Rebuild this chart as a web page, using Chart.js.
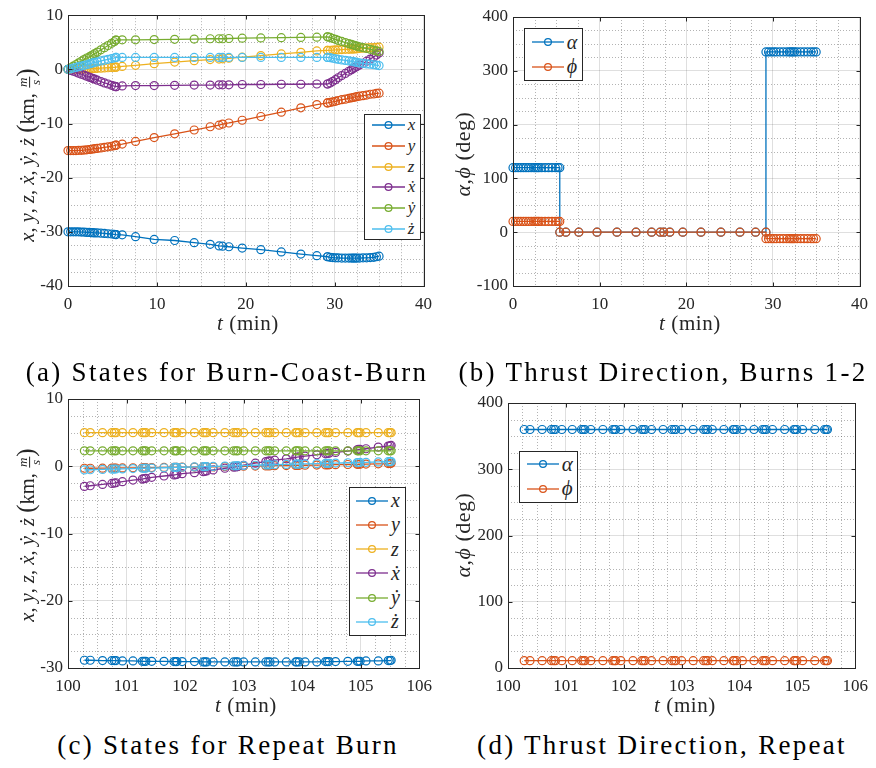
<!DOCTYPE html>
<html>
<head>
<meta charset="utf-8">
<script src="https://cdn.jsdelivr.net/npm/chart.js@4.4.1/dist/chart.umd.min.js"></script>
<style>
  body { margin: 0; background: #fff; }
  #page { position: relative; width: 876px; height: 768px; overflow: hidden; font-family: 'Liberation Serif', 'DejaVu Serif', serif; color: #262626; }
  canvas { position: absolute; }
  .cap { position: absolute; font-size: 27px; letter-spacing: 2.3px; color: #000; white-space: nowrap; transform: translate(-50%, -50%); }
  .xt { position: absolute; font-size: 21px; letter-spacing: 0.6px; white-space: nowrap; transform: translate(-50%, -50%); }
  .yt { position: absolute; font-size: 20.5px; white-space: nowrap; transform: translate(-50%, -50%) rotate(-90deg); }
  .yt.ang { font-size: 22px; letter-spacing: 0.5px; }
  .frac { display: inline-flex; flex-direction: column; vertical-align: middle; font-size: 13px; line-height: 12px; text-align: center; font-style: italic; }
  .frac span:first-child { border-bottom: 1px solid #262626; padding: 0 1px; }
  .big { font-size: 25px; }
  .leg { position: absolute; border: 1px solid #262626; background: #fff; box-sizing: border-box; }
  .leg .row { position: absolute; left: 0; height: 20px; display: flex; align-items: center; }
  .leg .lab { font-style: italic; margin-left: 3px; }
</style>
</head>
<body>
<div id="page">
  <canvas id="cA" width="440" height="340" style="left:0;top:0"></canvas>
  <canvas id="cB" width="436" height="340" style="left:440px;top:0"></canvas>
  <canvas id="cC" width="440" height="320" style="left:0;top:380px"></canvas>
  <canvas id="cD" width="436" height="320" style="left:440px;top:380px"></canvas>

  <div class="yt" style="left:27px;top:155px"><i>x</i>, <i>y</i>, <i>z</i>, <i>ẋ</i>, <i>ẏ</i>, <i>ż</i> <span class="big">(</span>km, <span class="frac"><span>m</span><span>s</span></span><span class="big">)</span></div>
  <div class="yt ang" style="left:463px;top:154px"><i>α</i>,<i>ϕ</i> (deg)</div>
  <div class="yt" style="left:27px;top:535px"><i>x</i>, <i>y</i>, <i>z</i>, <i>ẋ</i>, <i>ẏ</i>, <i>ż</i> <span class="big">(</span>km, <span class="frac"><span>m</span><span>s</span></span><span class="big">)</span></div>
  <div class="yt ang" style="left:463px;top:535px"><i>α</i>,<i>ϕ</i> (deg)</div>

  <div class="xt" style="left:248px;top:323px"><i>t</i> (min)</div>
  <div class="xt" style="left:690px;top:323px"><i>t</i> (min)</div>
  <div class="xt" style="left:246px;top:705px"><i>t</i> (min)</div>
  <div class="xt" style="left:685px;top:705px"><i>t</i> (min)</div>

  <div class="cap" style="left:227px;top:372px">(a) States for Burn-Coast-Burn</div>
  <div class="cap" style="left:663px;top:372px">(b) Thrust Direction, Burns 1-2</div>
  <div class="cap" style="left:228px;top:745px">(c) States for Repeat Burn</div>
  <div class="cap" style="left:662px;top:745px">(d) Thrust Direction, Repeat</div>
</div>

<script>
// ---- data: burn-coast-burn (minutes) ----
const tA = [
  0, 0.3, 0.6, 0.9, 1.2, 1.5, 1.8, 2.1, 2.4, 2.6, 2.8, 3.0, 3.3, 3.7, 4.1, 4.5, 4.9, 5.2, 5.4,
  5.4, 6.1, 7.6, 9.7, 12.0, 14.2, 16.0, 17.0, 17.4, 18.1, 19.6, 21.7, 24.0, 26.2, 28.0, 29.2,
  29.2, 29.5, 29.8, 30.1, 30.4, 30.8, 31.2, 31.6, 31.9, 32.1, 32.3, 32.5, 32.8, 33.2, 33.6, 34.0, 34.4, 34.7, 35.0
];
const xA = [
  -30.0, -30.0, -30.0, -30.0, -30.0, -30.05, -30.05, -30.1, -30.1, -30.15, -30.15, -30.2, -30.2, -30.25, -30.3, -30.35, -30.4, -30.45, -30.5,
  -30.5, -30.55, -30.9, -31.4, -31.6, -32.0, -32.3, -32.6, -32.65, -32.75, -33.0, -33.3, -33.7, -34.1, -34.4, -34.6,
  -34.6, -34.7, -34.75, -34.8, -34.8, -34.85, -34.85, -34.85, -34.85, -34.85, -34.85, -34.85, -34.85, -34.8, -34.8, -34.75, -34.7, -34.6, -34.5
];
const yA = [
  -15.0, -15.0, -15.0, -15.0, -14.95, -14.95, -14.9, -14.85, -14.8, -14.75, -14.7, -14.65, -14.6, -14.5, -14.4, -14.3, -14.2, -14.1, -14.0,
  -14.0, -13.8, -13.3, -12.6, -11.9, -11.2, -10.6, -10.3, -10.1, -9.9, -9.4, -8.7, -7.9, -7.1, -6.5, -6.2,
  -6.2, -6.1, -6.0, -5.9, -5.75, -5.6, -5.5, -5.35, -5.25, -5.2, -5.1, -5.05, -4.95, -4.85, -4.75, -4.6, -4.55, -4.45, -4.4
];
const zA = [
  0, 0.01, 0.02, 0.03, 0.05, 0.06, 0.08, 0.1, 0.12, 0.13, 0.15, 0.17, 0.19, 0.22, 0.26, 0.3, 0.34, 0.37, 0.4,
  0.4, 0.55, 0.75, 1.05, 1.35, 1.6, 1.8, 1.9, 1.95, 2.05, 2.25, 2.55, 2.85, 3.15, 3.4, 3.5,
  3.5, 3.5, 3.55, 3.6, 3.6, 3.65, 3.7, 3.7, 3.75, 3.75, 3.8, 3.8, 3.85, 3.9, 3.95, 4.0, 4.0, 4.05, 4.1
];
const xdA = [
  0, -0.2, -0.35, -0.5, -0.7, -0.9, -1.05, -1.25, -1.45, -1.55, -1.7, -1.8, -2.0, -2.25, -2.5, -2.7, -2.95, -3.1, -3.2,
  -3.2, -3.05, -3.0, -3.0, -2.95, -2.9, -2.9, -2.85, -2.85, -2.85, -2.8, -2.8, -2.75, -2.75, -2.7, -2.7,
  -2.7, -2.5, -2.2, -1.9, -1.55, -1.15, -0.75, -0.35, -0.05, 0.15, 0.35, 0.55, 0.8, 1.1, 1.5, 1.9, 2.3, 2.65, 3.0
];
const ydA = [
  0, 0.3, 0.6, 0.9, 1.2, 1.5, 1.8, 2.1, 2.3, 2.5, 2.7, 2.9, 3.2, 3.6, 4.0, 4.4, 4.8, 5.1, 5.4,
  5.4, 5.45, 5.45, 5.5, 5.55, 5.6, 5.65, 5.65, 5.65, 5.7, 5.75, 5.8, 5.85, 5.9, 5.95, 6.0,
  6.0, 5.9, 5.7, 5.55, 5.35, 5.15, 4.95, 4.75, 4.6, 4.5, 4.4, 4.3, 4.15, 4.0, 3.85, 3.7, 3.55, 3.4, 3.3
];
const zdA = [
  0, 0.1, 0.25, 0.35, 0.5, 0.6, 0.75, 0.85, 1.0, 1.1, 1.2, 1.3, 1.4, 1.55, 1.7, 1.85, 2.0, 2.1, 2.2,
  2.2, 2.2, 2.2, 2.2, 2.2, 2.2, 2.2, 2.2, 2.2, 2.2, 2.2, 2.2, 2.2, 2.2, 2.2, 2.2,
  2.2, 2.15, 2.05, 1.95, 1.85, 1.75, 1.65, 1.55, 1.5, 1.45, 1.35, 1.3, 1.2, 1.1, 1.0, 0.95, 0.85, 0.8, 0.7
];
const alphaB = [
  120, 120, 120, 120, 120, 120, 120, 120, 120, 120, 120, 120, 120, 120, 120, 120, 120, 120, 120,
  0, 0, 0, 0, 0, 0, 0, 0, 0, 0, 0, 0, 0, 0, 0, 0,
  335, 335, 335, 335, 335, 335, 335, 335, 335, 335, 335, 335, 335, 335, 335, 335, 335, 335, 335
];
const phiB = [
  20, 20, 20, 20, 20, 20, 20, 20, 20, 20, 20, 20, 20, 20, 20, 20, 20, 20, 20,
  0, 0, 0, 0, 0, 0, 0, 0, 0, 0, 0, 0, 0, 0, 0, 0,
  -12, -12, -12, -12, -12, -12, -12, -12, -12, -12, -12, -12, -12, -12, -12, -12, -12, -12, -12
];

// ---- data: repeat burn ----
const tC = [
  100.28, 100.38, 100.59, 100.75, 100.79, 100.82, 100.93, 101.11, 101.27, 101.30,
  101.33, 101.43, 101.64, 101.81, 101.84, 101.86, 101.95, 102.16, 102.31, 102.34,
  102.37, 102.48, 102.68, 102.83, 102.87, 102.90, 103.00, 103.20, 103.38, 103.42,
  103.45, 103.53, 103.73, 103.89, 103.91, 103.95, 104.05, 104.25, 104.40, 104.43,
  104.46, 104.57, 104.78, 104.94, 104.96, 104.99, 105.09, 105.30, 105.47, 105.50,
  105.52
];
const xC = [
  -28.85, -28.85, -28.9, -28.9, -28.9, -28.9, -28.95, -28.95, -29.0, -29.0,
  -29.0, -29.0, -29.0, -29.05, -29.05, -29.05, -29.05, -29.05, -29.1, -29.1,
  -29.1, -29.1, -29.1, -29.1, -29.1, -29.1, -29.1, -29.1, -29.1, -29.1,
  -29.1, -29.1, -29.1, -29.1, -29.1, -29.1, -29.1, -29.1, -29.05, -29.05,
  -29.05, -29.05, -29.0, -29.0, -29.0, -29.0, -28.95, -28.95, -28.9, -28.9,
  -28.85
];
const yC = [
  -0.3, -0.3, -0.28, -0.27, -0.26, -0.26, -0.25, -0.23, -0.22, -0.22,
  -0.21, -0.2, -0.18, -0.16, -0.16, -0.15, -0.14, -0.12, -0.1, -0.09,
  -0.09, -0.08, -0.05, -0.03, -0.02, -0.02, 0.0, 0.02, 0.05, 0.06,
  0.06, 0.08, 0.1, 0.13, 0.13, 0.14, 0.15, 0.18, 0.2, 0.21,
  0.21, 0.23, 0.26, 0.29, 0.3, 0.3, 0.32, 0.36, 0.4, 0.42,
  0.43
];
const zC = [
  5.0, 5.0, 5.0, 5.0, 5.0, 5.0, 5.0, 5.0, 5.0, 5.0,
  5.0, 5.0, 5.0, 5.0, 5.0, 5.0, 5.0, 5.0, 5.0, 5.0,
  5.0, 5.0, 5.0, 5.0, 5.0, 5.0, 5.0, 5.0, 5.0, 5.0,
  5.0, 5.0, 5.0, 5.0, 5.0, 5.0, 5.0, 5.0, 5.0, 5.0,
  5.0, 5.0, 5.0, 5.0, 5.0, 5.0, 5.0, 5.0, 5.0, 5.0,
  5.0
];
const xdC = [
  -3.0, -2.9, -2.7, -2.55, -2.5, -2.45, -2.3, -2.05, -1.9, -1.85,
  -1.8, -1.65, -1.45, -1.3, -1.25, -1.2, -1.1, -0.95, -0.8, -0.75,
  -0.7, -0.55, -0.3, -0.15, -0.1, -0.05, 0.15, 0.45, 0.7, 0.75,
  0.8, 0.9, 1.1, 1.3, 1.35, 1.4, 1.5, 1.7, 1.85, 1.9,
  1.95, 2.05, 2.25, 2.45, 2.5, 2.5, 2.6, 2.85, 3.0, 3.05,
  3.1
];
const ydC = [
  2.3, 2.3, 2.3, 2.3, 2.3, 2.3, 2.3, 2.3, 2.3, 2.3,
  2.3, 2.3, 2.3, 2.3, 2.3, 2.3, 2.3, 2.3, 2.3, 2.3,
  2.3, 2.3, 2.3, 2.3, 2.3, 2.3, 2.3, 2.3, 2.3, 2.3,
  2.3, 2.3, 2.3, 2.3, 2.3, 2.3, 2.3, 2.3, 2.3, 2.3,
  2.3, 2.3, 2.3, 2.3, 2.3, 2.3, 2.3, 2.3, 2.3, 2.3,
  2.3
];
const zdC = [
  -0.55, -0.52, -0.47, -0.43, -0.42, -0.41, -0.39, -0.34, -0.3, -0.3,
  -0.29, -0.27, -0.22, -0.18, -0.17, -0.17, -0.15, -0.1, -0.06, -0.06,
  -0.05, -0.02, 0.03, 0.06, 0.07, 0.08, 0.1, 0.15, 0.19, 0.2,
  0.21, 0.22, 0.27, 0.31, 0.31, 0.32, 0.35, 0.39, 0.43, 0.43,
  0.44, 0.47, 0.52, 0.55, 0.56, 0.57, 0.59, 0.64, 0.68, 0.69,
  0.7
];
const alphaD = [
  360, 360, 360, 360, 360, 360, 360, 360, 360, 360,
  360, 360, 360, 360, 360, 360, 360, 360, 360, 360,
  360, 360, 360, 360, 360, 360, 360, 360, 360, 360,
  360, 360, 360, 360, 360, 360, 360, 360, 360, 360,
  360, 360, 360, 360, 360, 360, 360, 360, 360, 360,
  360
];
const phiD = [
  11, 11, 11, 11, 11, 11, 11, 11, 11, 11,
  11, 11, 11, 11, 11, 11, 11, 11, 11, 11,
  11, 11, 11, 11, 11, 11, 11, 11, 11, 11,
  11, 11, 11, 11, 11, 11, 11, 11, 11, 11,
  11, 11, 11, 11, 11, 11, 11, 11, 11, 11,
  11
];

const stateLabels = ['x', 'y', 'z', 'ẋ', 'ẏ', 'ż'];
const angleLabels = ['α', 'ϕ'];
const colors = ['#0072BD', '#D95319', '#EDB120', '#7E2F8E', '#77AC30', '#4DBEEE'];

Chart.defaults.font.family = "'Liberation Serif', 'DejaVu Serif', serif";
Chart.defaults.font.size = 17;
Chart.defaults.color = '#262626';

const AXIS = '#262626';

function isMajor(v, step) {
  const r = v / step;
  return Math.abs(r - Math.round(r)) < 1e-6;
}

// minor dotted grid + inward ticks + box, like matlab axes
const matlabAxes = {
  id: 'matlabAxes',
  beforeDatasetsDraw(chart, args, opts) {
    const { ctx, chartArea: a, scales: { x, y } } = chart;
    ctx.save();
    ctx.strokeStyle = 'rgba(38,38,38,0.35)';
    ctx.lineWidth = 1;
    ctx.setLineDash([1, 2]);
    for (let v = x.min + opts.minorX; v < x.max - 1e-9; v += opts.minorX) {
      if (isMajor(v, opts.majorX)) continue;
      const px = Math.round(x.getPixelForValue(v)) + 0.5;
      ctx.beginPath(); ctx.moveTo(px, a.top); ctx.lineTo(px, a.bottom); ctx.stroke();
    }
    for (let v = y.min + opts.minorY; v < y.max - 1e-9; v += opts.minorY) {
      if (isMajor(v, opts.majorY)) continue;
      const py = Math.round(y.getPixelForValue(v)) + 0.5;
      ctx.beginPath(); ctx.moveTo(a.left, py); ctx.lineTo(a.right, py); ctx.stroke();
    }
    ctx.restore();
  },
  afterDraw(chart) {
    const { ctx, chartArea: a, scales: { x, y } } = chart;
    const L = Math.round(a.left) + 0.5, R = Math.round(a.right) + 0.5;
    const T = Math.round(a.top) + 0.5, B = Math.round(a.bottom) + 0.5;
    ctx.save();
    ctx.strokeStyle = AXIS;
    ctx.lineWidth = 1;
    ctx.strokeRect(L, T, R - L, B - T);
    ctx.beginPath();
    x.ticks.forEach(t => {
      const px = Math.round(x.getPixelForValue(t.value)) + 0.5;
      ctx.moveTo(px, B); ctx.lineTo(px, B - 4);
      ctx.moveTo(px, T); ctx.lineTo(px, T + 4);
    });
    y.ticks.forEach(t => {
      const py = Math.round(y.getPixelForValue(t.value)) + 0.5;
      ctx.moveTo(L, py); ctx.lineTo(L + 4, py);
      ctx.moveTo(R, py); ctx.lineTo(R - 4, py);
    });
    ctx.stroke();
    ctx.restore();
  }
};

function series(label, color, ts, vs, i, n) {
  return {
    label,
    data: ts.map((t, k) => ({ x: t, y: vs[k] })),
    borderColor: color,
    backgroundColor: color,
    borderWidth: 1.3,
    pointRadius: 4,
    pointBorderWidth: 1.2,
    pointBackgroundColor: 'rgba(0,0,0,0)',
    pointBorderColor: color,
    tension: 0,
    clip: 8,
    order: n - i
  };
}

function panel(id, ax, datasets) {
  const cv = document.getElementById(id);
  const W = cv.width, H = cv.height;
  return new Chart(cv, {
    type: 'line',
    data: { datasets },
    options: {
      responsive: false,
      animation: false,
      devicePixelRatio: 1,
      layout: { padding: { left: 0, top: ax.area.top, right: W - ax.area.right, bottom: 0 } },
      plugins: { legend: { display: false }, tooltip: { enabled: false }, matlabAxes: ax.minor },
      scales: {
        x: {
          type: 'linear', min: ax.x[0], max: ax.x[1],
          ticks: { stepSize: ax.x[2], padding: 8, maxRotation: 0, autoSkip: false },
          grid: { color: 'rgba(38,38,38,0.15)', drawTicks: false },
          border: { display: false },
          afterFit: s => { s.height = H - ax.area.bottom; }
        },
        y: {
          type: 'linear', min: ax.y[0], max: ax.y[1],
          ticks: { stepSize: ax.y[2], padding: 5, autoSkip: false },
          grid: { color: 'rgba(38,38,38,0.15)', drawTicks: false },
          border: { display: false },
          afterFit: s => { s.width = ax.area.left; }
        }
      }
    },
    plugins: [matlabAxes]
  });
}

function legend(chart, box) {
  const page = document.getElementById('page');
  const el = document.createElement('div');
  el.className = 'leg';
  Object.assign(el.style, { left: box.left + 'px', top: box.top + 'px', width: box.w + 'px', height: box.h + 'px' });
  chart.data.datasets.forEach((ds, i) => {
    const row = document.createElement('div');
    row.className = 'row';
    row.style.top = (box.first + i * box.step - box.top - 11) + 'px';
    row.style.left = (box.lineX - box.left - 1) + 'px';
    const c = ds.borderColor;
    row.innerHTML =
      `<svg width="${box.lineW}" height="20"><line x1="0" y1="10" x2="${box.lineW}" y2="10" stroke="${c}" stroke-width="1.3"/>` +
      `<circle cx="${box.lineW / 2}" cy="10" r="3.4" fill="none" stroke="${c}" stroke-width="1.2"/></svg>` +
      `<span class="lab" style="font-size:${box.fs}px">${ds.label}</span>`;
    el.appendChild(row);
  });
  page.appendChild(el);
}

const statesA = [xA, yA, zA, xdA, ydA, zdA];
const chartA = panel('cA',
  { area: { left: 68, right: 429, top: 14, bottom: 286 }, x: [0, 40, 10], y: [-40, 10, 10],
    minor: { minorX: 2.5, majorX: 10, minorY: 2.5, majorY: 10 } },
  statesA.map((v, i) => series(stateLabels[i], colors[i], tA, v, i, 6)));

const chartB = panel('cB',
  { area: { left: 73, right: 427, top: 17, bottom: 286 }, x: [0, 40, 10], y: [-100, 400, 100],
    minor: { minorX: 2.5, majorX: 10, minorY: 25, majorY: 100 } },
  [alphaB, phiB].map((v, i) => series(angleLabels[i], colors[i], tA, v, i, 2)));

const statesC = [xC, yC, zC, xdC, ydC, zdC];
const chartC = panel('cC',
  { area: { left: 68, right: 425, top: 19, bottom: 288 }, x: [100, 106, 1], y: [-30, 10, 10],
    minor: { minorX: 0.25, majorX: 1, minorY: 2.5, majorY: 10 } },
  statesC.map((v, i) => series(stateLabels[i], colors[i], tC, v, i, 6)));

const chartD = panel('cD',
  { area: { left: 68, right: 423, top: 23, bottom: 288 }, x: [100, 106, 1], y: [0, 400, 100],
    minor: { minorX: 0.25, majorX: 1, minorY: 25, majorY: 100 } },
  [alphaD, phiD].map((v, i) => series(angleLabels[i], colors[i], tC, v, i, 2)));

legend(chartA, { left: 364, top: 114, w: 57, h: 126, first: 125.3, step: 20.7, lineX: 371.7, lineW: 33, fs: 17 });
legend(chartB, { left: 524, top: 28, w: 59, h: 53, first: 42.3, step: 24.4, lineX: 531.7, lineW: 32, fs: 20 });
legend(chartC, { left: 349, top: 487, w: 57, h: 149, first: 500.7, step: 24.2, lineX: 356, lineW: 32, fs: 20 });
legend(chartD, { left: 519, top: 451, w: 59, h: 52, first: 464.3, step: 24.4, lineX: 526.7, lineW: 32, fs: 21 });
</script>
</body>
</html>
